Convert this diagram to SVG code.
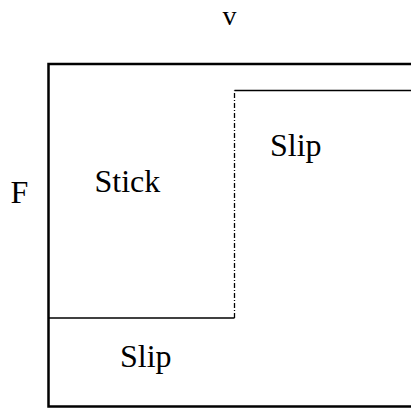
<svg xmlns="http://www.w3.org/2000/svg" width="411" height="410" viewBox="0 0 411 410">
<style>
.t{font-family:'Liberation Serif','Times New Roman',Times,serif;font-size:32px;fill:#000}
.frame{fill:none;stroke:#000;stroke-width:2.5}
.line{fill:none;stroke:#000;stroke-width:1.3}
.dd{fill:none;stroke:#000;stroke-width:1.3;stroke-dasharray:5 2 1 2}
</style>
<rect width="411" height="410" fill="#fff"/>
<g id="frame"><path class="frame" d="M413 64 H48.5 V406.5 H413"/></g>
<g id="connectors">
<path class="line" d="M49 318 H234.5"/>
<path class="dd" d="M234.5 318 V90.5"/>
<path class="line" d="M234.5 90.5 H413"/>
</g>
<g id="v"><text class="t" x="222.5" y="25" style="font-size:28px">v</text></g>
<g id="F"><text class="t" x="10.5" y="203">F</text></g>
<g id="stick"><text class="t" x="94.5" y="192">Stick</text></g>
<g id="slip-top"><text class="t" x="270" y="156">Slip</text></g>
<g id="slip-bottom"><text class="t" x="120" y="367">Slip</text></g>
</svg>
